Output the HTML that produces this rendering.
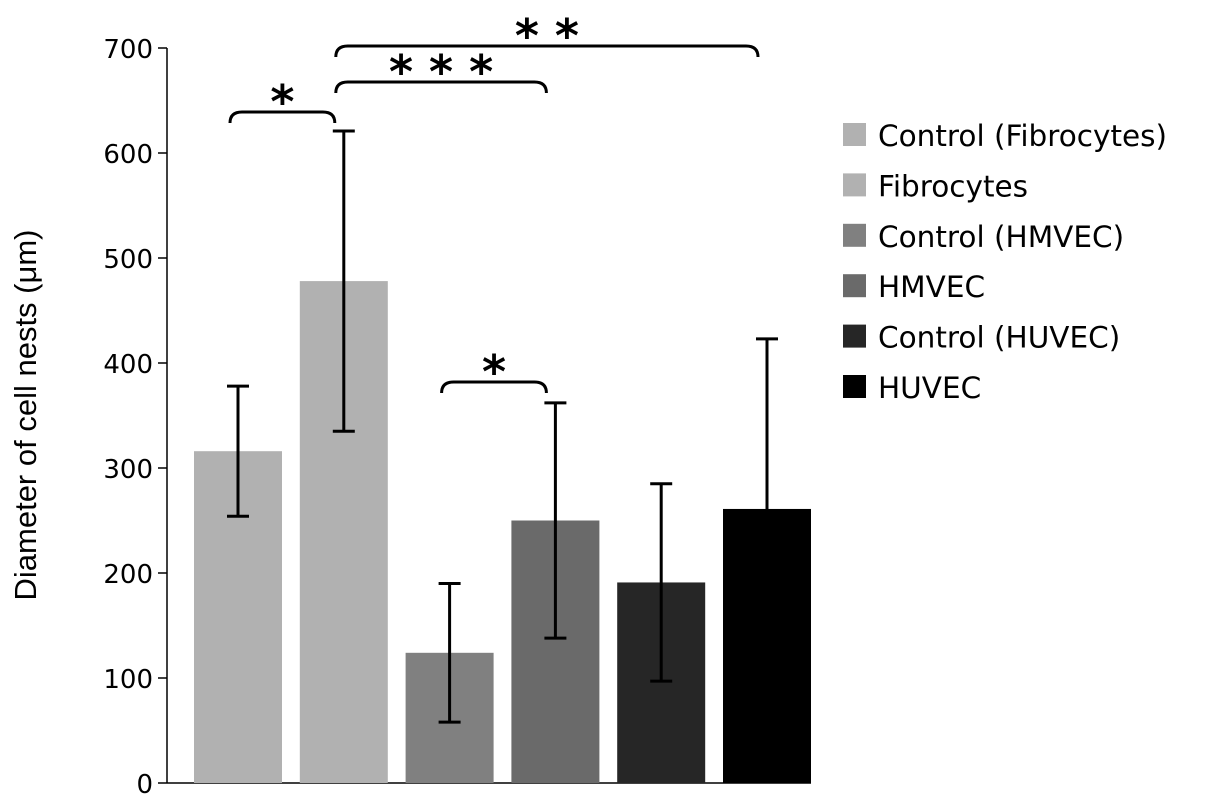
<!DOCTYPE html>
<html><head><meta charset="utf-8"><style>
html,body{margin:0;padding:0;background:#fff;}
svg{display:block;}
</style></head><body>
<svg id="chart" width="1205" height="807" xmlns="http://www.w3.org/2000/svg">
<g id="axes"></g><g id="bars"></g><g id="errs"></g><g id="sig"></g><g id="legend"></g>
<text transform="translate(36,415) rotate(-90)" text-anchor="middle" font-family="Liberation Sans, sans-serif" font-size="31" fill="#000">Diameter of cell nests (μm)</text>
</svg>
<script>
const categories = ["Control (Fibrocytes)","Fibrocytes","Control (HMVEC)","HMVEC","Control (HUVEC)","HUVEC"];
const values = [316, 478, 124, 250, 191, 261];
const errors = [62, 143, 66, 112, 94, 162];
const colors = ["#b1b1b1","#b1b1b1","#808080","#6a6a6a","#262626","#000000"];
const ticks = [0,100,200,300,400,500,600,700];
const sigPairs = [[0,1,"*",112],[1,3,"* * *",82],[1,5,"* *",46],[2,3,"*",382]];

const NS="http://www.w3.org/2000/svg";
const y0=783, pxPer=735/700;
const yS=v=>y0-v*pxPer;
const bx=i=>194+i*105.8, bw=88;
function mk(tag,attrs,parent,txt){const e=document.createElementNS(NS,tag);for(const k in attrs)e.setAttribute(k,attrs[k]);if(txt!==undefined)e.textContent=txt;document.getElementById(parent).appendChild(e);return e;}
const font="DejaVu Sans, Verdana, sans-serif";
let e=mk("line",{x1:167,y1:yS(700),x2:167,y2:y0,stroke:"#000","stroke-width":1.5},"axes");


e=mk("line",{x1:167,y1:y0,x2:811,y2:y0,stroke:"#000","stroke-width":1.5},"axes");


ticks.forEach(t=>{
  let l=mk("line",{x1:158,y1:yS(t),x2:167,y2:yS(t),stroke:"#000","stroke-width":1.5},"axes");
  
  
  let tx=mk("text",{x:153,y:yS(t)+10,"text-anchor":"end","font-family":font,"font-size":26,fill:"#000"},"axes",t);
  
  
});
values.forEach((v,i)=>{
  let r=mk("rect",{x:bx(i),y:yS(v),width:bw,height:y0-yS(v),fill:colors[i]},"bars");
  
  
  const cx=bx(i)+bw/2, top=yS(v+errors[i]), bot=yS(v-errors[i]);
  const g=mk("g",{stroke:"#000","stroke-width":3},"errs");
  
  
  [["line",{x1:cx,y1:top,x2:cx,y2:bot}],["line",{x1:cx-11,y1:top,x2:cx+11,y2:top}],["line",{x1:cx-11,y1:bot,x2:cx+11,y2:bot}]].forEach(([t,a])=>{const l=document.createElementNS(NS,t);for(const k in a)l.setAttribute(k,a[k]);g.appendChild(l);});
});
sigPairs.forEach(([a,b,s,y])=>{
  const x1=bx(a)+bw/2-8, x2=bx(b)+bw/2-9;
  let p=mk("path",{d:`M${x1},${y+11} Q${x1},${y} ${x1+12},${y} L${x2-12},${y} Q${x2},${y} ${x2},${y+11}`,fill:"none",stroke:"#000","stroke-width":3},"sig");
  
  
  let t=mk("text",{x:(x1+x2)/2,y:y+6,"text-anchor":"middle","font-family":font,"font-size":46,"font-weight":"bold",fill:"#000"},"sig",s);
  
  
});
categories.forEach((c,i)=>{
  const y=135+i*50.4;
  let r=mk("rect",{x:843,y:y-12,width:23,height:23,fill:colors[i]},"legend");
  
  
  let t=mk("text",{x:878,y:y+11,"font-family":font,"font-size":29.5,fill:"#000"},"legend",c);
  
  
});
</script>
</body></html>
